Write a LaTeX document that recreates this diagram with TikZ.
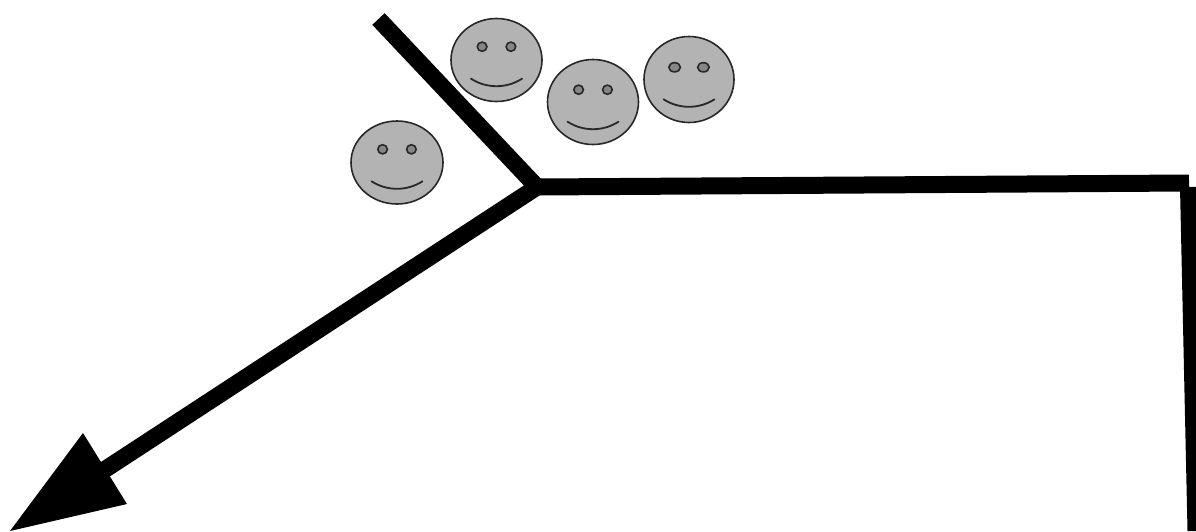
\documentclass[tikz,border=0pt]{standalone}
\definecolor{facegray}{RGB}{179,179,179}
\definecolor{edgegray}{RGB}{40,40,40}
\tikzset{
  thick line/.style={line width=17pt,black,line cap=butt},
  face/.style={draw=edgegray,fill=facegray,line width=1.6pt},
  eye/.style={draw=edgegray,fill=facegray!75!black,line width=1.6pt},
  smile/.style={draw=edgegray,line width=1.8pt,line cap=round},
  pics/smiley/.style n args={4}{code={
    \path[face] (0,0) ellipse [x radius=#1,y radius=#2];
    \path[eye] (-14.4,#3) ellipse [x radius=#4,y radius=4.6];
    \path[eye] (14.4,#3) ellipse [x radius=#4,y radius=4.6];
    \path[smile] (-25.5,{#3+32}) .. controls (-10,{#3+42}) and (10,{#3+42}) .. (25.5,{#3+32});
  }}
}
\begin{document}
\begin{tikzpicture}[x=1pt,y=-1pt]
\useasboundingbox (0,0) rectangle (1196,531);
\fill[white] (0,0) rectangle (1196,531);
\coordinate (barTop) at (378.5,19);
\coordinate (joint) at (537,187);
\coordinate (barRight) at (1189,183);
\coordinate (sideTop) at (1188.5,187);
\coordinate (sideBottom) at (1196,531);
\coordinate (shaftEnd) at (95,476);
\coordinate (tip) at (10,531);
\coordinate (wingA) at (83,433);
\coordinate (wingB) at (127,504);
\draw[thick line] (barTop) -- (joint);
\draw[thick line] (joint) -- (barRight);
\draw[thick line] (sideTop) -- (sideBottom);
\draw[thick line] (joint) -- (shaftEnd);
\fill[black] (tip) -- (wingA) -- (wingB) -- cycle;
\pic at (397,162.5) {smiley={46}{41.5}{-13.2}{4.8}};
\pic at (496.5,60) {smiley={45.5}{41.5}{-13.3}{4.8}};
\pic at (593,102) {smiley={45.5}{42.5}{-12.3}{4.8}};
\pic at (689,79.5) {smiley={45}{43}{-12.2}{5.8}};
\end{tikzpicture}
\end{document}
